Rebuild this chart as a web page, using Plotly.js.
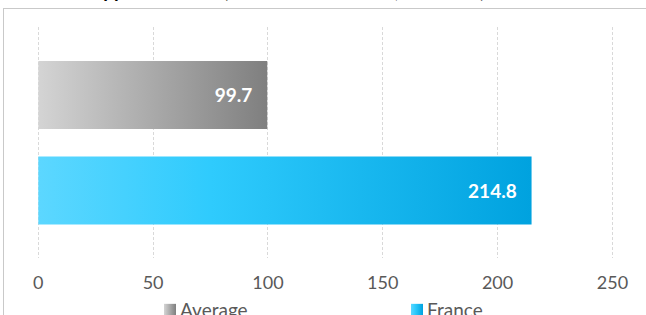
<!DOCTYPE html>
<html>
<head>
<meta charset="utf-8">
<script src="https://cdn.plot.ly/plotly-3.0.1.min.js"></script>
<style>
  html, body { margin: 0; padding: 0; background: #fff; overflow: hidden; }
  #wrap { position: relative; width: 646px; height: 315px; }
  #chart { width: 646px; height: 315px; }
  #frame { position: absolute; left: 3px; top: 8px; width: 700px; height: 400px;
           border-left: 1px solid #c9c9c9; border-top: 1px solid #c9c9c9; pointer-events: none; }
</style>
</head>
<body>
<div id="wrap">
  <div id="chart"></div>
  <div id="frame"></div>
</div>
<script>
const seriesNames = ['Average', 'France'];
const seriesValues = [99.7, 214.8];
const categoryOrder = ['France', 'Average'];
const tickValues = [0, 50, 100, 150, 200, 250];
const tickLabels = ['0', '50', '100', '150', '200', '250'];
const titleText = '<b>Happiness index</b> (relative to the mean, base 100)';

const FONT = 'Lato, "DejaVu Sans", sans-serif';

const traces = seriesNames.map((name, i) => ({
  type: 'bar',
  orientation: 'h',
  name: name,
  x: [seriesValues[i]],
  y: [name],
  width: 0.712,
  marker: { color: i === 0 ? '#a6a6a6' : '#1fc0f5', line: { width: 0 } },
  text: [seriesValues[i].toFixed(1) + '\u2002\u2009'],
  textposition: 'inside',
  insidetextanchor: 'end',
  textfont: { family: FONT, size: 19, color: '#ffffff', weight: 'bold' },
  hoverinfo: 'skip'
}));

const layout = {
  width: 646, height: 315,
  margin: { l: 35.7, r: 29.4, t: 27, b: 57, pad: 0 },
  paper_bgcolor: 'rgba(0,0,0,0)',
  plot_bgcolor: 'rgba(0,0,0,0)',
  barmode: 'overlay',
  showlegend: true,
  title: {
    text: titleText,
    font: { family: FONT, size: 19, color: '#000' },
    xref: 'container', yref: 'container',
    x: 0.437, xanchor: 'center',
    y: 1, yanchor: 'bottom',
    pad: { b: 2 }
  },
  xaxis: {
    range: [-1, 252],
    tickvals: tickValues,
    ticktext: tickLabels,
    showgrid: true,
    gridcolor: '#d9d9d9',
    griddash: '3px,2px',
    gridwidth: 1,
    zeroline: false,
    showline: false,
    ticks: '',
    tickfont: { family: FONT, size: 18, color: '#595959' },
    ticklabelstandoff: 12,
    fixedrange: true
  },
  yaxis: {
    type: 'category',
    categoryorder: 'array',
    categoryarray: categoryOrder,
    range: [-0.707, 1.712],
    showticklabels: false,
    showgrid: false,
    zeroline: false,
    showline: false,
    ticks: '',
    fixedrange: true
  },
  legend: {
    orientation: 'h',
    xref: 'container', yref: 'container',
    x: 140 / 646, xanchor: 'left',
    y: 1 - 291 / 315, yanchor: 'top',
    entrywidth: 202, entrywidthmode: 'pixels',
    font: { family: FONT, size: 19, color: '#595959' },
    bgcolor: 'rgba(0,0,0,0)',
    itemclick: false, itemdoubleclick: false
  }
};

function addGradients(gd) {
  const svg = gd.querySelector('svg.main-svg');
  const ns = 'http://www.w3.org/2000/svg';
  let defs = svg.querySelector('defs');
  if (!defs) { defs = document.createElementNS(ns, 'defs'); svg.insertBefore(defs, svg.firstChild); }
  const grads = {
    gAvg: [[0, '#d4d4d4'], [1, '#7f7f7f']],
    gFr: [[0, '#5cd7ff'], [0.35, '#2fcbfd'], [1, '#00a2df']]
  };
  Object.keys(grads).forEach(id => {
    const lg = document.createElementNS(ns, 'linearGradient');
    lg.setAttribute('id', id);
    lg.setAttribute('x1', '0'); lg.setAttribute('y1', '0');
    lg.setAttribute('x2', '1'); lg.setAttribute('y2', '0');
    grads[id].forEach(s => {
      const st = document.createElementNS(ns, 'stop');
      st.setAttribute('offset', s[0]);
      st.setAttribute('stop-color', s[1]);
      lg.appendChild(st);
    });
    defs.appendChild(lg);
  });
  const ids = ['gAvg', 'gFr'];
  gd.querySelectorAll('.barlayer .trace').forEach((t, i) => {
    t.querySelectorAll('path').forEach(p => { p.style.fill = 'url(#' + ids[i] + ')'; });
  });
  gd.querySelectorAll('.legend .traces').forEach((t, i) => {
    t.querySelectorAll('.legendpoints path').forEach(p => {
      p.style.fill = 'url(#' + ids[i] + ')';
    });
    const lp = t.querySelector('.legendpoints');
    if (lp) lp.setAttribute('transform', 'translate(10,0)');
  });
}

Plotly.newPlot('chart', traces, layout, { displayModeBar: false, staticPlot: true })
  .then(gd => addGradients(gd));
</script>
</body>
</html>
